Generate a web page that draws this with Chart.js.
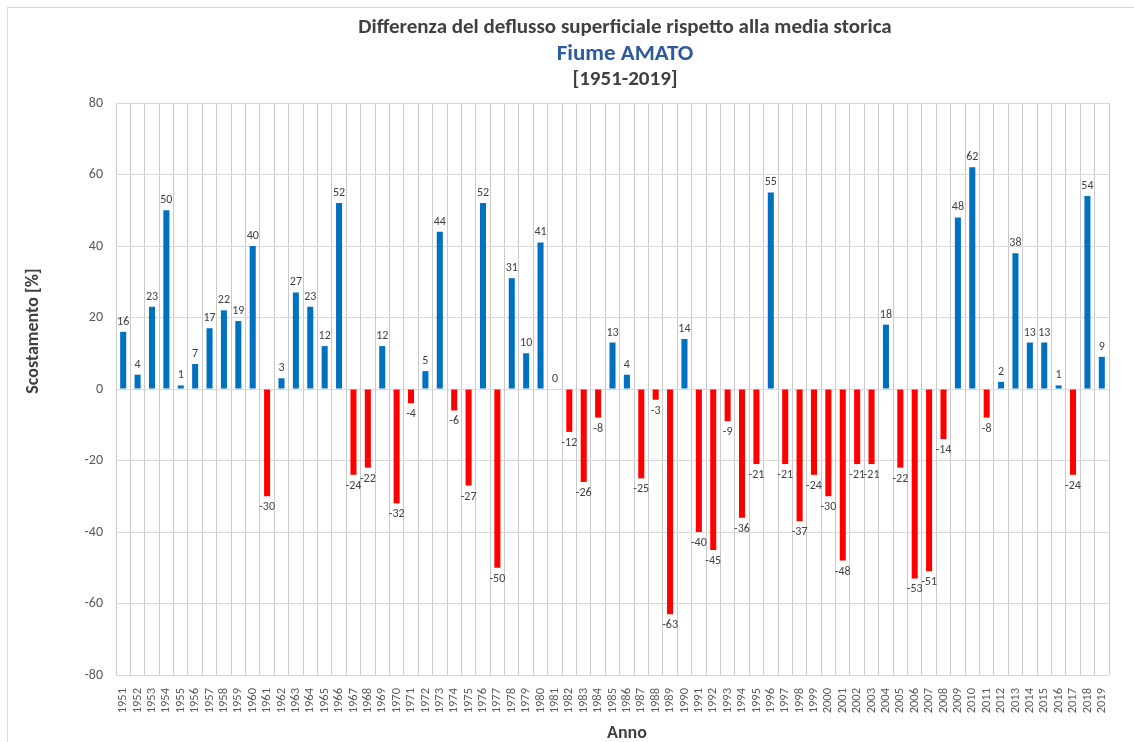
<!DOCTYPE html>
<html>
<head>
<meta charset="utf-8">
<script src="https://cdn.jsdelivr.net/npm/chart.js@4/dist/chart.umd.min.js"></script>
<style>
  html,body{ margin:0; padding:0; background:#fff; }
  #wrap{ position:relative; width:1134px; height:742px; }
  #frame{ position:absolute; left:7px; top:7px; right:0; bottom:0; border-left:1px solid #d9d9d9; border-top:1px solid #d9d9d9; pointer-events:none; }
</style>
</head>
<body>
<div id="wrap">
  <canvas id="chart" width="1134" height="742"></canvas>
  <div id="frame"></div>
</div>
<script>
// Data
const years = ['1951','1952','1953','1954','1955','1956','1957','1958','1959','1960',
  '1961','1962','1963','1964','1965','1966','1967','1968','1969','1970',
  '1971','1972','1973','1974','1975','1976','1977','1978','1979','1980',
  '1981','1982','1983','1984','1985','1986','1987','1988','1989','1990',
  '1991','1992','1993','1994','1995','1996','1997','1998','1999','2000',
  '2001','2002','2003','2004','2005','2006','2007','2008','2009','2010',
  '2011','2012','2013','2014','2015','2016','2017','2018','2019'];
const deviation = [16,4,23,50,1,7,17,22,19,40,
  -30,3,27,23,12,52,-24,-22,12,-32,
  -4,5,44,-6,-27,52,-50,31,10,41,
  0,-12,-26,-8,13,4,-25,-3,-63,14,
  -40,-45,-9,-36,-21,55,-21,-37,-24,-30,
  -48,-21,-21,18,-22,-53,-51,-14,48,62,
  -8,2,38,13,13,1,-24,54,9];
const yTicks = [-80,-60,-40,-20,0,20,40,60,80];

const FONT = 'Carlito, "Liberation Sans Narrow", "Open Sans", sans-serif';
const BLUE = '#0070C0', RED = '#FF0000';

// value labels above / below bars
const valueLabels = {
  id:'valueLabels',
  afterDatasetsDraw(chart){
    const ctx = chart.ctx;
    const meta = chart.getDatasetMeta(0);
    ctx.save();
    ctx.font = '12px ' + FONT;
    ctx.fillStyle = '#404040';
    ctx.textAlign = 'center';
    meta.data.forEach((bar,i)=>{
      const v = deviation[i];
      if(v>=0){ ctx.textBaseline='bottom'; ctx.fillText(String(v), bar.x, bar.y-4); }
      else { ctx.textBaseline='top'; ctx.fillText(String(v), bar.x, bar.y+5); }
    });
    ctx.restore();
  }
};

// heading and axis titles
const heading = {
  id:'heading',
  afterDraw(chart){
    const ctx = chart.ctx;
    const cx = 625;
    ctx.save();
    ctx.textAlign = 'center';
    ctx.textBaseline = 'middle';
    ctx.font = 'bold 21px ' + FONT;
    ctx.fillStyle = '#404040';
    ctx.fillText('Differenza del deflusso superficiale rispetto alla media storica', cx, 28);
    ctx.font = 'bold 23px ' + FONT;
    ctx.fillStyle = '#2E5A9E';
    ctx.fillText('Fiume AMATO', cx, 54);
    ctx.font = 'bold 21px ' + FONT;
    ctx.fillStyle = '#404040';
    ctx.fillText('[1951-2019]', cx, 80);

    ctx.font = 'bold 18px ' + FONT;
    ctx.fillText('Anno', 627, 733);
    ctx.translate(33, 331);
    ctx.rotate(-Math.PI/2);
    ctx.fillText('Scostamento [%]', 0, 0);
    ctx.restore();
  }
};

new Chart(document.getElementById('chart'), {
  type:'bar',
  data:{
    labels: years,
    datasets:[{
      data: deviation,
      backgroundColor: deviation.map(v=> v<0 ? RED : BLUE),
      barPercentage: 0.42,
      categoryPercentage: 1.0,
      borderWidth: 0
    }]
  },
  options:{
    responsive:false,
    animation:false,
    layout:{ padding:{ top:103, right:25, left:0, bottom:0 } },
    plugins:{ legend:{ display:false }, tooltip:{ enabled:false } },
    scales:{
      x:{
        grid:{ color:'#c9c9c9', drawTicks:false, offset:true },
        border:{ display:false },
        ticks:{ color:'#595959', font:{ size:12.5, family:FONT }, minRotation:90, maxRotation:90, autoSkip:false, padding:13 },
        afterFit(s){ s.height = 67; }
      },
      y:{
        min:-80, max:80,
        afterBuildTicks(s){ s.ticks = yTicks.map(v=>({ value:v })); },
        grid:{ color:'#d9d9d9', drawTicks:false },
        border:{ display:false },
        ticks:{ color:'#595959', font:{ size:14, family:FONT }, padding:13 },
        afterFit(s){ s.width = 116; }
      }
    }
  },
  plugins:[valueLabels, heading]
});
</script>
</body>
</html>
